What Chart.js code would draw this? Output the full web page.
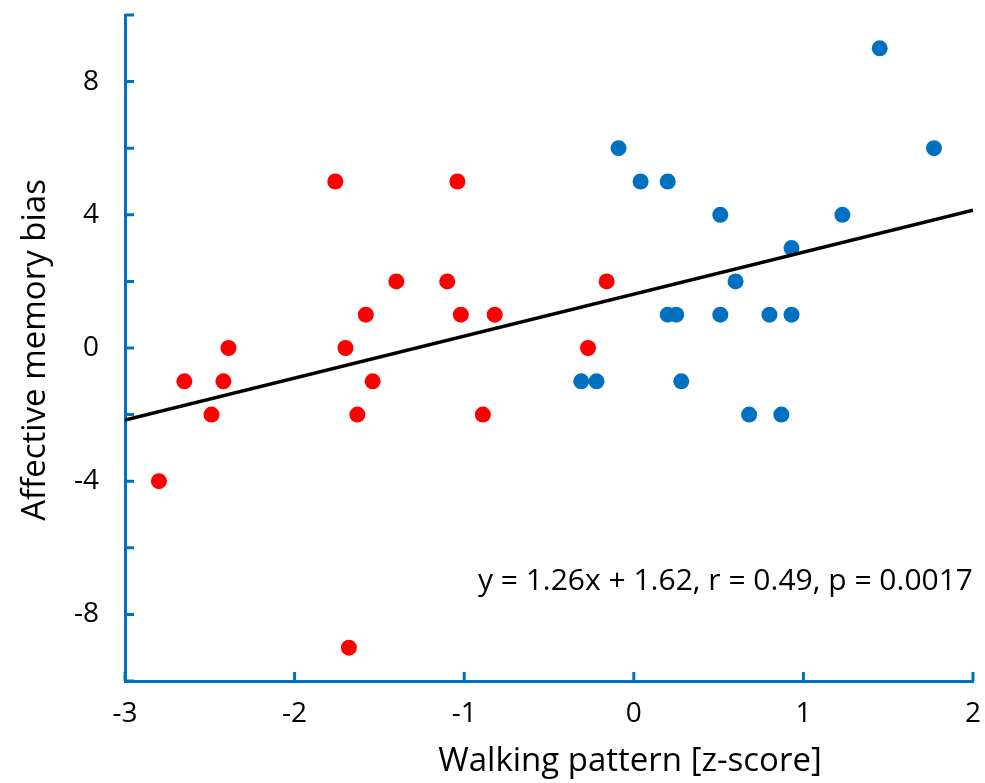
<!DOCTYPE html>
<html>
<head>
<meta charset="utf-8">
<script src="https://cdn.jsdelivr.net/npm/chart.js@4"></script>
<style>
  html, body { margin: 0; padding: 0; background: #fff; }
  #wrap { width: 985px; height: 783px; }
</style>
</head>
<body>
<div id="wrap"><canvas id="chart" width="985" height="783"></canvas></div>
<script>
const redX = [-2.80, -2.65, -2.49, -2.42, -2.39, -1.76, -1.70, -1.68, -1.63, -1.58, -1.54, -1.40, -1.10, -1.04, -1.02, -0.89, -0.82, -0.27, -0.16];
const redY = [-4, -1, -2, -1, 0, 5, 0, -9, -2, 1, -1, 2, 2, 5, 1, -2, 1, 0, 2];
const blueX = [-0.31, -0.22, -0.09, 0.04, 0.20, 0.20, 0.25, 0.28, 0.51, 0.51, 0.60, 0.68, 0.80, 0.87, 0.93, 0.93, 1.23, 1.45, 1.77];
const blueY = [-1, -1, 6, 5, 5, 1, 1, -1, 4, 1, 2, -2, 1, -2, 3, 1, 4, 9, 6];
const slope = 1.26;
const intercept = 1.62;
const fitRange = [-3, 2];
const xTicks = [-3, -2, -1, 0, 1, 2];
const yLabelTicks = [-8, -4, 0, 4, 8];
const statsText = 'y = 1.26x + 1.62, r = 0.49, p = 0.0017';

const axisBlue = '#0070C0';
const fontFamily = '"Open Sans", "Noto Sans", sans-serif';

const toPts = (xs, ys) => xs.map((x, i) => ({ x: x, y: ys[i] }));

// inward tick marks, axis titles and the stats label
const decorations = {
  id: 'decorations',
  afterDraw(chart) {
    const ctx = chart.ctx;
    const xs = chart.scales.x;
    const ys = chart.scales.y;
    const area = chart.chartArea;
    ctx.save();
    ctx.strokeStyle = axisBlue;
    ctx.lineWidth = 3;
    ctx.beginPath();
    xs.ticks.forEach(t => {
      const px = xs.getPixelForValue(t.value);
      ctx.moveTo(px, area.bottom);
      ctx.lineTo(px, area.bottom - 9);
    });
    ys.ticks.forEach(t => {
      const py = ys.getPixelForValue(t.value);
      ctx.moveTo(area.left, py);
      ctx.lineTo(area.left + 9, py);
    });
    ctx.stroke();

    ctx.fillStyle = '#000';
    ctx.font = '33px ' + fontFamily;
    ctx.textAlign = 'center';
    ctx.textBaseline = 'middle';
    ctx.fillText('Walking pattern [z-score]', 630, 762);

    ctx.save();
    ctx.translate(36, 350);
    ctx.rotate(-Math.PI / 2);
    ctx.fillText('Affective memory bias', 0, 0);
    ctx.restore();

    ctx.font = '30px ' + fontFamily;
    ctx.textAlign = 'right';
    ctx.fillText(statsText, xs.getPixelForValue(2), ys.getPixelForValue(-7));
    ctx.restore();
  }
};

new Chart(document.getElementById('chart'), {
  type: 'scatter',
  data: {
    datasets: [
      {
        label: 'fit',
        type: 'line',
        data: fitRange.map(x => ({ x: x, y: slope * x + intercept })),
        borderColor: '#000',
        borderWidth: 3.5,
        pointRadius: 0,
        fill: false
      },
      {
        label: 'red',
        data: toPts(redX, redY),
        backgroundColor: '#FF0000',
        borderColor: '#FF0000',
        pointRadius: 8,
        borderWidth: 0
      },
      {
        label: 'blue',
        data: toPts(blueX, blueY),
        backgroundColor: axisBlue,
        borderColor: axisBlue,
        pointRadius: 8,
        borderWidth: 0
      }
    ]
  },
  options: {
    responsive: false,
    animation: false,
    layout: { padding: { top: 15, right: 12, left: 0, bottom: 0 } },
    plugins: { legend: { display: false }, tooltip: { enabled: false } },
    scales: {
      x: {
        type: 'linear',
        min: -3,
        max: 2,
        afterBuildTicks: s => { s.ticks = xTicks.map(v => ({ value: v })); },
        afterFit: s => { s.height = 102; s.paddingLeft = 0; s.paddingRight = 0; },
        grid: { display: false },
        border: { color: axisBlue, width: 3 },
        ticks: {
          color: '#000',
          padding: 8,
          font: { size: 28, family: fontFamily }
        }
      },
      y: {
        min: -10,
        max: 10,
        afterFit: s => { s.width = 125; s.paddingTop = 0; s.paddingBottom = 0; },
        grid: { display: false },
        border: { color: axisBlue, width: 3 },
        ticks: {
          stepSize: 2,
          color: '#000',
          padding: 18,
          font: { size: 28, family: fontFamily },
          callback: v => yLabelTicks.includes(v) ? String(v) : ''
        }
      }
    }
  },
  plugins: [decorations]
});
</script>
</body>
</html>
